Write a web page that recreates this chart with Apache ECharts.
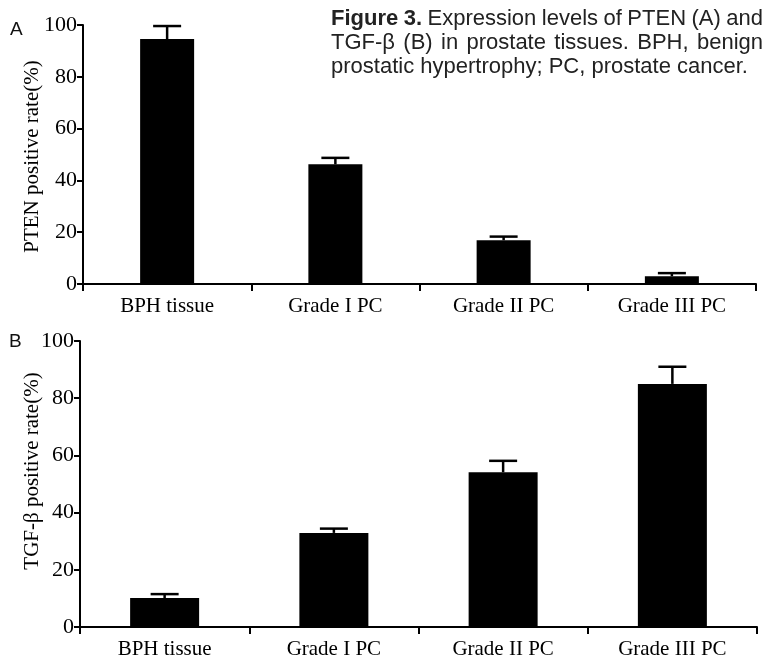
<!DOCTYPE html>
<html><head><meta charset="utf-8">
<script src="https://cdn.jsdelivr.net/npm/echarts@6/dist/echarts.min.js"></script>
<style>html,body{margin:0;padding:0;background:#fff}#c{width:767px;height:660px}</style>
</head><body><div id="c"></div><script>
// ---- data ----
const categories = ["BPH tissue", "Grade I PC", "Grade II PC", "Grade III PC"];
const ptenValues = [94.6, 46.2, 16.9, 3.0];
const ptenErrors = [5.0, 2.5, 1.4, 1.2];
const tgfValues = [10.1, 32.9, 54.1, 85.0];
const tgfErrors = [1.4, 1.5, 4.0, 6.0];
const yMin = 0, yMax = 100, yStep = 20;
const panelLabels = ["A", "B"];
const axisTitles = ["PTEN positive rate(%)", "TGF-\u03b2 positive rate(%)"];
const captionLines = [
  [["Figure", true], ["3.", true], ["Expression"], ["levels"], ["of"], ["PTEN"], ["(A)"], ["and"]],
  [["TGF-\u03b2"], ["(B)"], ["in"], ["prostate"], ["tissues."], ["BPH,"], ["benign"]],
  [["prostatic"], ["hypertrophy;"], ["PC,"], ["prostate"], ["cancer."]]
];

// ---- chart ----
const chart = echarts.init(document.getElementById('c'), null, {renderer: 'canvas'});
const serif = '"Liberation Serif", "Times New Roman", serif';
const sans = '"Liberation Sans", Arial, sans-serif';

function errRender(params, api) {
  const x = api.value(0), v = api.value(1), e = api.value(2);
  const b = api.coord([x, v]);
  const t = api.coord([x, v + e]);
  const half = 14;
  const st = {stroke: '#000', lineWidth: 2.5};
  return {type: 'group', children: [
    {type: 'line', shape: {x1: b[0], y1: b[1], x2: t[0], y2: t[1]}, style: st},
    {type: 'line', shape: {x1: t[0] - half, y1: t[1], x2: t[0] + half, y2: t[1]}, style: st}
  ]};
}

function xAxisCfg(gi) {
  return {
    type: 'category', gridIndex: gi, data: categories, boundaryGap: true,
    axisLine: {lineStyle: {color: '#000', width: 2}},
    axisTick: {show: true, length: 7, lineStyle: {color: '#000', width: 2}},
    axisLabel: {color: '#000', fontFamily: serif, fontSize: 21, margin: 12}
  };
}
function yAxisCfg(gi, name, gap, pad) {
  return {
    type: 'value', gridIndex: gi, min: yMin, max: yMax, interval: yStep,
    name: name, nameLocation: 'middle', nameRotate: 90, nameGap: gap, nameMoveOverlap: false,
    nameTextStyle: {color: '#000', fontFamily: serif, fontSize: 21, padding: pad},
    splitLine: {show: false},
    axisLine: {show: true, lineStyle: {color: '#000', width: 2}},
    axisTick: {show: true, length: 6, lineStyle: {color: '#000', width: 2}},
    axisLabel: {color: '#000', fontFamily: serif, fontSize: 22, margin: 6}
  };
}

// caption layout (justified)
const ctx = document.createElement('canvas').getContext('2d');
const capSize = 22;
function fontStr(b) { return (b ? 'bold ' : '') + capSize + 'px ' + sans; }
const capL = 331, capR = 763;
const capY = [19, 43, 67];
const graphics = [];
captionLines.forEach((words, li) => {
  const widths = words.map(w => { ctx.font = fontStr(w[1]); return ctx.measureText(w[0]).width; });
  const total = widths.reduce((a, b) => a + b, 0);
  ctx.font = fontStr(false);
  const sp = ctx.measureText(' ').width;
  const gap = li < 2 ? (capR - capL - total) / (words.length - 1) : sp;
  let x = capL;
  words.forEach((w, i) => {
    graphics.push({type: 'text', x: x, y: capY[li], silent: true,
      style: {text: w[0], x: 0, y: 0, fill: '#222', font: fontStr(w[1]), textVerticalAlign: 'middle', verticalAlign: 'middle'}});
    x += widths[i] + gap;
  });
});
graphics.push({type: 'text', x: 10, y: 30, style: {text: panelLabels[0], fill: '#111', font: '19px ' + sans, verticalAlign: 'middle', textVerticalAlign: 'middle'}});
graphics.push({type: 'text', x: 9, y: 342, style: {text: panelLabels[1], fill: '#111', font: '19px ' + sans, verticalAlign: 'middle', textVerticalAlign: 'middle'}});

chart.setOption({
  animation: false,
  backgroundColor: '#fff',
  grid: [
    {left: 83, right: 11, top: 25, height: 259},
    {left: 80, right: 10, top: 341, height: 287}
  ],
  xAxis: [xAxisCfg(0), xAxisCfg(1)],
  yAxis: [yAxisCfg(0, axisTitles[0], 40, [0, 4, 0, 0]), yAxisCfg(1, axisTitles[1], 37, [0, 0, 0, 26])],
  series: [
    {type: 'bar', xAxisIndex: 0, yAxisIndex: 0, data: ptenValues, barWidth: 54, itemStyle: {color: '#000'}},
    {type: 'custom', xAxisIndex: 0, yAxisIndex: 0, renderItem: errRender, encode: {x: 0, y: 1},
      data: ptenValues.map((v, i) => [i, v, ptenErrors[i]]), z: 3},
    {type: 'bar', xAxisIndex: 1, yAxisIndex: 1, data: tgfValues, barWidth: 69, itemStyle: {color: '#000'}},
    {type: 'custom', xAxisIndex: 1, yAxisIndex: 1, renderItem: errRender, encode: {x: 0, y: 1},
      data: tgfValues.map((v, i) => [i, v, tgfErrors[i]]), z: 3}
  ],
  graphic: graphics
});
</script></body></html>
